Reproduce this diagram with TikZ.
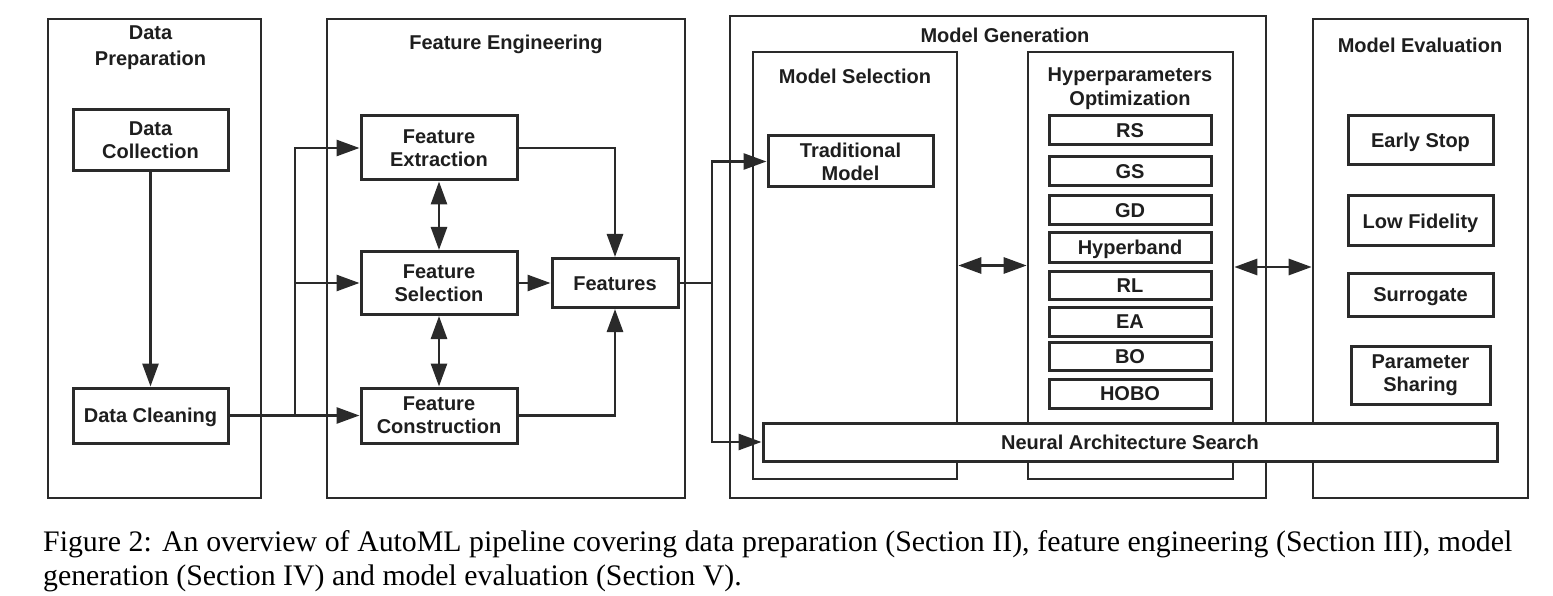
\documentclass[tikz,border=0pt]{standalone}
\usepackage{fontspec}
\setmainfont{Liberation Sans}
\newfontfamily\capfont{Liberation Serif}
\usetikzlibrary{arrows.meta}
\definecolor{lc}{HTML}{2A2A2A}
\definecolor{tc}{HTML}{1E1E1E}
\newcommand{\lbl}{\fontsize{20}{23}\selectfont\bfseries}
\tikzset{
  frame/.style={draw=lc, line width=2.6pt, inner sep=0pt},
  box/.style={draw=lc, line width=3pt, fill=white, inner sep=0pt, align=center, font=\lbl, text=tc},
  one/.style={text height=14.3pt, text depth=0pt},
  ttl/.style={anchor=base, font=\lbl, inner sep=0pt, text=tc},
  arr/.style={draw=lc, line width=2.8pt, -{Triangle[length=23pt,width=16pt]}},
  darr/.style={draw=lc, line width=2.8pt, {Triangle[length=23pt,width=16pt]}-{Triangle[length=23pt,width=16pt]}},
  ln/.style={draw=lc, line width=2.8pt},
}
\begin{document}
\begin{tikzpicture}[x=1pt,y=-1pt]
\useasboundingbox (0,0) rectangle (1553,596);
% containers
\node[frame, minimum width=213pt, minimum height=479pt] (DP) at (154.5,258.5) {};
\node[frame, minimum width=358pt, minimum height=479pt] (FE) at (506,258.5) {};
\node[frame, minimum width=536pt, minimum height=482pt] (MG) at (998,257) {};
\node[frame, minimum width=204pt, minimum height=427pt] (MS) at (855,265.5) {};
\node[frame, minimum width=205pt, minimum height=427pt] (HPO) at (1130.5,265.5) {};
\node[frame, minimum width=215pt, minimum height=479pt] (ME) at (1420.5,258.5) {};
% titles
\node[ttl] (tDP1) at (150.5,40) {Data};
\node[ttl] (tDP2) at (150.5,65.5) {Preparation};
\node[ttl] (tFE) at (506,50) {Feature Engineering};
\node[ttl] (tMG) at (1005,43) {Model Generation};
\node[ttl] (tMS) at (855,83.3) {Model Selection};
\node[ttl] (tHP1) at (1130,82) {Hyperparameters};
\node[ttl] (tHP2) at (1130,105.5) {Optimization};
\node[ttl] (tME) at (1420,52.3) {Model Evaluation};
% data preparation
\node[box, minimum width=155pt, minimum height=61pt] (DC) at (150.5,140.5) {Data\\Collection};
\node[box, one, minimum width=155pt, minimum height=55pt] (DCl) at (150.5,415.5) {Data Cleaning};
% feature engineering
\node[box, minimum width=156pt, minimum height=64pt] (FEx) at (439,148) {Feature\\Extraction};
\node[box, minimum width=156pt, minimum height=63pt] (FSe) at (439,283) {Feature\\Selection};
\node[box, minimum width=156pt, minimum height=55pt] (FCo) at (439,415.5) {Feature\\Construction};
\node[box, one, minimum width=126pt, minimum height=49pt] (Fts) at (615,283) {Features};
% model generation
\node[box, minimum width=165pt, minimum height=51pt] (TM) at (850.5,161.5) {Traditional\\Model};
\node[box, one, minimum width=162pt, minimum height=29pt] (RS) at (1130,130.5) {RS};
\node[box, one, minimum width=162pt, minimum height=29pt] (GS) at (1130,171.5) {GS};
\node[box, one, minimum width=162pt, minimum height=29pt] (GD) at (1130,210.5) {GD};
\node[box, one, minimum width=162pt, minimum height=29pt] (HB) at (1130,247.5) {Hyperband};
\node[box, one, minimum width=162pt, minimum height=28pt] (RL) at (1130,285) {RL};
\node[box, one, minimum width=162pt, minimum height=29pt] (EA) at (1130,321.5) {EA};
\node[box, one, minimum width=162pt, minimum height=28pt] (BO) at (1130,356) {BO};
\node[box, one, minimum width=162pt, minimum height=29pt] (HOBO) at (1130,393.5) {HOBO};
% model evaluation
\node[box, one, minimum width=145pt, minimum height=49pt] (ES) at (1420.5,140.5) {Early Stop};
\node[box, one, minimum width=145pt, minimum height=50pt] (LF) at (1420.5,221) {Low Fidelity};
\node[box, one, minimum width=145pt, minimum height=43pt] (SU) at (1420.5,294.5) {Surrogate};
\node[box, minimum width=139pt, minimum height=58pt] (PS) at (1420.5,375) {Parameter\\Sharing};
% NAS on top
\node[box, one, minimum width=734pt, minimum height=38pt] (NAS) at (1130,442) {Neural Architecture Search};
% connectors
\coordinate (j1) at (295,415.5);
\coordinate (j2) at (712,283);
\draw[arr] (DC) -- (DCl);
\draw[draw=lc, line width=3.6pt] (DCl.east) -- (j1);
\draw[arr] (j1) |- (FEx.west);
\draw[arr] (j1) |- (FSe.west);
\draw[arr] (j1) -- (FCo.west);
\draw[darr] (FEx) -- (FSe);
\draw[darr] (FSe) -- (FCo);
\draw[arr] (FEx.east) -| (Fts.north);
\draw[arr] (FCo.east) -| (Fts.south);
\draw[arr] (FSe.east) -- (Fts.west);
\draw[ln] (Fts.east) -- (j2);
\draw[arr] (j2) |- (TM.west);
\draw[arr] (j2) |- (NAS.west);
\draw[darr] (MS.east) -- (HPO.west);
\draw[darr] ([yshift=-1.5pt]HPO.east) -- ([yshift=-1.5pt]HPO.east -| ME.west);
% caption
\node[anchor=base west, inner sep=0pt, font=\capfont\fontsize{29.8}{34.5}\selectfont] (cap1) at (43,551)
  {\makebox[1469pt][s]{Figure 2: An overview of AutoML pipeline covering data preparation (Section II), feature engineering (Section III), model}};
\node[anchor=base west, inner sep=0pt, font=\capfont\fontsize{29.8}{34.5}\selectfont] (cap2) at (43,585.5)
  {generation (Section IV) and model evaluation (Section V).};
\end{tikzpicture}
\end{document}
